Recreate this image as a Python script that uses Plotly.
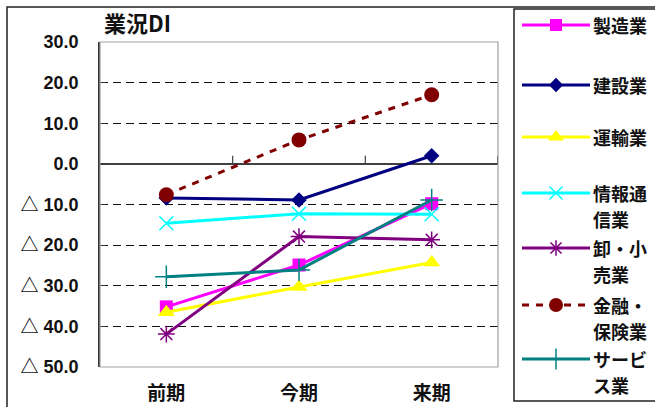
import plotly.graph_objects as go

# ---- data ----
categories = ["前期", "今期", "来期"]
series_names = ["製造業", "建設業", "運輸業", "情報通信業", "卸・小売業", "金融・保険業", "サービス業"]
legend_lines = [["製造業"], ["建設業"], ["運輸業"], ["情報通", "信業"], ["卸・小", "売業"],
                ["金融・", "保険業"], ["サービ", "ス業"]]
seizo = [-35.2, -24.9, -9.8]
kensetsu = [-8.4, -8.9, 2.0]
unyu = [-36.5, -30.3, -24.3]
joho = [-14.6, -12.3, -12.4]
oroshi = [-41.9, -17.9, -18.7]
kinyu = [-7.6, 5.9, 17.0]
service = [-27.8, -26.1, -8.9]
y_tickvals = [30, 20, 10, 0, -10, -20, -30, -40, -50]
y_ticktext = ["30.0", "20.0", "10.0", "0.0", "△ 10.0", "△ 20.0", "△ 30.0", "△ 40.0", "△ 50.0"]

values = [seizo, kensetsu, unyu, joho, oroshi, kinyu, service]
colors = ["#FF00FF", "#000080", "#FFFF00", "#00FFFF", "#800080", "#800000", "#008080"]
symbols = ["square", "diamond", "triangle-up", "x-thin-open", "asterisk-open", "circle", "cross-thin-open"]
msizes = [13, 12, 15, 14, 14, 15, 16]
dashes = ["solid", "solid", "solid", "solid", "solid", "7px,7px", "solid"]

W, H = 655, 407
def px(x):
    return x / W
def py(y):
    return 1 - y / H

PL, PR, PT, PB = 100, 498, 42, 367
CJK = "Noto Sans CJK JP"

fig = go.Figure()
for name, vals, c, s, ms, d in zip(series_names, values, colors, symbols, msizes, dashes):
    open_sym = s.endswith("open")
    fig.add_trace(go.Scatter(
        x=categories, y=vals, name=name, mode="lines+markers",
        line=dict(color=c, width=3, dash=d),
        marker=dict(symbol=s, size=ms, color=c,
                    line=dict(color=c, width=1.5 if open_sym else 0)),
        showlegend=False, cliponaxis=False))

# ---- custom legend (drawn on a pixel-mapped helper axis) ----
row_y = [25, 85, 137, 193, 248, 305, 359]
for lines, c, s, ms, d, ry in zip(legend_lines, colors, symbols, msizes, dashes, row_y):
    open_sym = s.endswith("open")
    fig.add_trace(go.Scatter(
        x=[522, 590], y=[ry, ry], mode="lines", xaxis="x2", yaxis="y2",
        line=dict(color=c, width=3, dash=d), showlegend=False, hoverinfo="skip"))
    fig.add_trace(go.Scatter(
        x=[556], y=[ry], mode="markers", xaxis="x2", yaxis="y2",
        marker=dict(symbol=s, size=ms - 1, color=c,
                    line=dict(color=c, width=1.5 if open_sym else 0)),
        showlegend=False, hoverinfo="skip"))
    for k, txt in enumerate(lines):
        fig.add_annotation(x=px(592), y=py(ry + 26 * k), xref="paper", yref="paper",
                           text=txt, showarrow=False, xanchor="left", yanchor="middle",
                           height=22, borderpad=0,
                           font=dict(family=CJK, size=18, color="#111111", weight="bold"))

shapes = [
    # outer chart frame
    dict(type="rect", xref="paper", yref="paper", x0=px(7), x1=px(720), y0=py(460), y1=py(7),
         line=dict(color="#222222", width=1.5)),
    # legend frame
    dict(type="rect", xref="paper", yref="paper", x0=px(514), x1=px(720), y0=py(401), y1=py(9),
         line=dict(color="#222222", width=1.5), fillcolor="white", layer="below"),
    # plot area border
    dict(type="rect", xref="paper", yref="paper", x0=px(PL), x1=px(PR), y0=py(PB), y1=py(PT),
         line=dict(color="#A0A0A0", width=1.2)),
]
# category tick marks on the zero axis
for xb in [0.5, 1.5, 2.5]:
    shapes.append(dict(type="line", xref="x", yref="y", x0=xb, x1=xb, y0=0, y1=2.0,
                       line=dict(color="#404040", width=1.2)))
fig.update_layout(shapes=shapes)

fig.add_annotation(x=px(102), y=py(22), xref="paper", yref="paper",
                   text='<b>業況DI</b>',
                   showarrow=False, xanchor="left", yanchor="middle",
                   font=dict(family=CJK, size=22, color="#111111"))

fig.update_layout(
    width=W, height=H, margin=dict(l=0, r=0, t=0, b=0, autoexpand=False),
    paper_bgcolor="white", plot_bgcolor="rgba(0,0,0,0)",
    xaxis=dict(domain=[px(PL), px(PR)], range=[-0.5, 2.5], type="category",
               showgrid=False, zeroline=False, showline=False, ticks="",
               automargin=False, ticklabelstandoff=13,
               tickfont=dict(family=CJK, size=19, color="#111111", weight="bold")),
    yaxis=dict(domain=[py(PB), py(PT)], range=[-50, 30], tickvals=y_tickvals,
               ticktext=y_ticktext, automargin=False,
               showgrid=True, gridcolor="#111111", gridwidth=1, griddash="8px,5px",
               zeroline=True, zerolinecolor="#404040", zerolinewidth=1.5,
               showline=True, linecolor="#333333", linewidth=1.5,
               ticks="inside", ticklen=6, tickcolor="#333333",
               ticklabelstandoff=16,
               tickfont=dict(family="Liberation Sans, Noto Sans CJK JP", size=18,
                             color="#111111", weight="bold")),
    xaxis2=dict(domain=[0, 1], range=[0, W], visible=False, anchor="y2"),
    yaxis2=dict(domain=[0, 1], range=[H, 0], visible=False, anchor="x2"),
)

fig.write_html("out.html")
